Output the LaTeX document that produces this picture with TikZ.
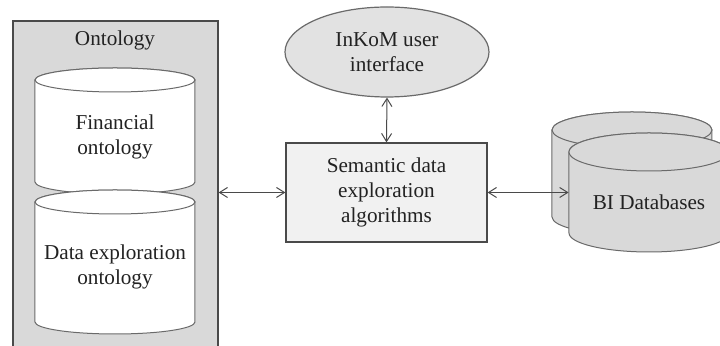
\documentclass[tikz,border=0pt]{standalone}
\usepackage{fontspec}
\setmainfont{Liberation Serif}
\usetikzlibrary{arrows.meta,shapes.geometric}
\definecolor{boxgray}{HTML}{D9D9D9}
\definecolor{uigray}{HTML}{E2E2E2}
\definecolor{semgray}{HTML}{F1F1F1}
\definecolor{linegray}{HTML}{4A4A4A}
\definecolor{cylline}{HTML}{6A6A6A}
\definecolor{txt}{HTML}{222222}
\newcommand\mycylinder[6]{% style, xl, xr, ytop, ybot, ry (px)
  \pgfmathsetmacro\crx{(#3-#2)*0.25}%
  \pgfmathsetmacro\cry{#6*0.5}%
  \pgfmathsetmacro\ccx{(#2+#3)/2}%
  \path[#1] (#2,#4) -- (#2,#5) arc[start angle=180,end angle=360,x radius=\crx pt,y radius=\cry pt]
    -- (#3,#4) arc[start angle=0,end angle=180,x radius=\crx pt,y radius=\cry pt] -- cycle;
  \path[#1] (\ccx,#4) ellipse[x radius=\crx pt,y radius=\cry pt];
}
\begin{document}
\begin{tikzpicture}[x=0.5pt,y=-0.5pt,
  every node/.style={text=txt,font=\fontsize{10.6pt}{12.5pt}\selectfont,align=center},
  conn/.style={draw=linegray,line width=0.5pt,{Straight Barb[length=4pt,width=5pt]}-{Straight Barb[length=4pt,width=5pt]}},
  cylwhite/.style={draw=cylline,fill=white,line width=0.5pt},
  cylgray/.style={draw=cylline,fill=boxgray,line width=0.5pt}]
\useasboundingbox (0,0) rectangle (720,346);
\clip (0,0) rectangle (720,346);
\fill[white] (0,0) rectangle (720,346);
% Ontology container
\node[draw=linegray,fill=boxgray,line width=0.6pt,minimum width=102.5pt,minimum height=169.5pt,inner sep=0pt] (ont) at (115.5,190.5) {};
\node (ontlbl) at (115,40) {Ontology};
% ontology cylinders
\mycylinder{cylwhite}{35}{195}{80}{182}{12}
\node (fin) at (115,137) {Financial\\ontology};
\mycylinder{cylwhite}{35}{195}{202}{322}{12}
\node (dex) at (115,267) {Data exploration\\ontology};
% UI ellipse
\node[ellipse,draw=cylline,fill=uigray,line width=0.6pt,minimum width=102pt,minimum height=45pt,inner sep=0pt] (ui) at (387,52) {};
\node at (387,52) {InKoM user\\interface};
% Semantic box
\node[draw=linegray,fill=semgray,line width=0.6pt,minimum width=100.5pt,minimum height=49.5pt,inner sep=0pt] (sem) at (386.5,192.5) {};
\node at (386.5,192.5) {Semantic data\\exploration\\algorithms};
% BI databases
\mycylinder{cylgray}{552}{712}{130}{217}{18}
\mycylinder{cylgray}{569}{729}{152}{233}{19}
\node[inner sep=0pt,minimum width=80pt,minimum height=40pt] (bicyl) at (649,192.5) {};
\node (bi) at (649,202) {BI Databases};
% connectors
\draw[conn] (ui.south) -- (sem.north);
\draw[conn] (sem.west -| ont.east) -- (sem.west);
\draw[conn] (sem.east) -- (sem.east -| bicyl.west);
\end{tikzpicture}
\end{document}
